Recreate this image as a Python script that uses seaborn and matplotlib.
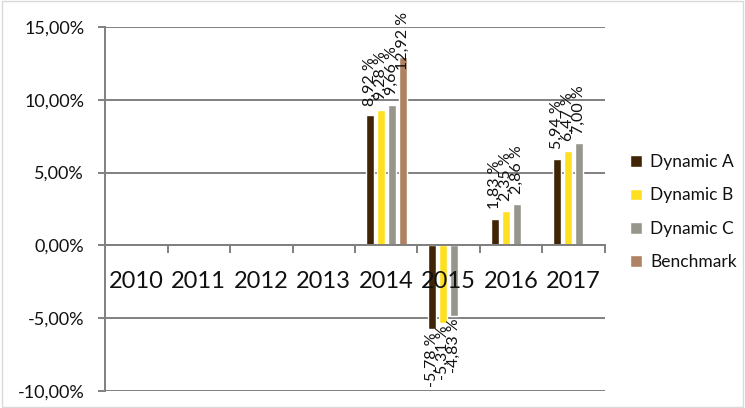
import numpy as np
import pandas as pd
import matplotlib
matplotlib.use("Agg")
import matplotlib.pyplot as plt
from matplotlib.ticker import FuncFormatter, FixedLocator
from matplotlib.patches import Rectangle
import matplotlib.transforms as mtransforms
import seaborn as sns

years = ["2010", "2011", "2012", "2013", "2014", "2015", "2016", "2017"]
dynamic_a = [np.nan, np.nan, np.nan, np.nan, 8.92, -5.78, 1.83, 5.94]
dynamic_b = [np.nan, np.nan, np.nan, np.nan, 9.28, -5.31, 2.35, 6.47]
dynamic_c = [np.nan, np.nan, np.nan, np.nan, 9.66, -4.83, 2.86, 7.00]
benchmark = [np.nan, np.nan, np.nan, np.nan, 12.92, np.nan, np.nan, np.nan]
series_names = ["Dynamic A", "Dynamic B", "Dynamic C", "Benchmark"]
colors = ["#3f2506", "#ffe020", "#96968c", "#ae8262"]

rows = []
for name, vals in zip(series_names, [dynamic_a, dynamic_b, dynamic_c, benchmark]):
    for y, v in zip(years, vals):
        rows.append({"year": y, "series": name, "value": v})
df = pd.DataFrame(rows)

sns.set_theme(style="white")
plt.rcParams["font.family"] = ["Lato", "DejaVu Sans"]

fig = plt.figure(figsize=(7.45, 4.08), dpi=100)
ax = fig.add_axes([0.141, 0.042, 0.671, 0.892])

sns.barplot(data=df, x="year", y="value", hue="series", order=years,
            hue_order=series_names, palette=colors, width=0.7, gap=0.27,
            saturation=1, ax=ax, legend=True, errorbar=None)

ax.set_ylim(-10, 15)
ax.set_xlim(-0.5, 7.5)
ax.set_yticks([-10, -5, 0, 5, 10, 15])
ax.yaxis.set_major_formatter(FuncFormatter(lambda v, p: f"{v:.2f}%".replace(".", ",")))
ax.grid(axis="y", color="#808080", linewidth=1.4)
ax.set_axisbelow(True)
ax.set_xlabel("")
ax.set_ylabel("")

for s in ["top", "right"]:
    ax.spines[s].set_visible(False)
ax.spines["left"].set_color("#808080")
ax.spines["left"].set_linewidth(1.4)
ax.spines["bottom"].set_position(("data", 0))
ax.spines["bottom"].set_color("#808080")
ax.spines["bottom"].set_linewidth(1.4)

ax.tick_params(axis="y", left=True, length=5, width=1.4, color="#808080",
               labelsize=13, labelcolor="#111111", pad=10)
ax.tick_params(axis="x", which="major", length=0, labelbottom=False)
ax.xaxis.set_minor_locator(FixedLocator([i + 0.5 for i in range(8)]))
ax.tick_params(axis="x", which="minor", bottom=True, length=6, width=1.4,
               color="#808080")

# category labels drawn above the bars (as in the reference)
trans = mtransforms.offset_copy(ax.transData, fig=fig, x=0, y=-36, units="dots")
for i, yr in enumerate(years):
    ax.text(i, 0, yr, transform=trans, ha="center", va="center",
            fontsize=17, color="#111111", zorder=5)

fig.canvas.draw()
renderer = fig.canvas.get_renderer()
fig_h = fig.bbox.height
for cont in ax.containers:
    for rect, v in zip(cont.patches, cont.datavalues):
        if np.isnan(v):
            continue
        lab = f"{v:.2f} %".replace(".", ",")
        x = rect.get_x() + rect.get_width() / 2
        if v >= 0:
            t = ax.annotate(lab, (x, v), xytext=(0, 7), textcoords="offset points",
                            rotation=90, ha="center", va="bottom", fontsize=11.5,
                            color="#111111", zorder=6, annotation_clip=False)
            bb = t.get_window_extent(renderer)
            over = bb.y1 - (fig_h - 12)
            if over > 0:
                t.set_position((0, 7 - over * 72 / fig.dpi))
        else:
            ax.annotate(lab, (x, v), xytext=(0, -2), textcoords="offset points",
                        rotation=90, ha="center", va="top", fontsize=11.5,
                        color="#111111", zorder=6, annotation_clip=False)

leg = ax.get_legend()
handles = leg.legend_handles
leg.remove()
fig.legend(handles, series_names, loc="center left", bbox_to_anchor=(0.846, 0.48),
           frameon=False, fontsize=12.5, handlelength=0.65, handleheight=0.65,
           handletextpad=0.5, labelspacing=1.0, borderpad=0, borderaxespad=0,
           labelcolor="#111111")

fig.patches.append(Rectangle((0.003, 0.003), 0.994, 0.994, transform=fig.transFigure,
                             fill=False, edgecolor="#d9d9d9", linewidth=1))

fig.savefig("out.png", dpi=100)
